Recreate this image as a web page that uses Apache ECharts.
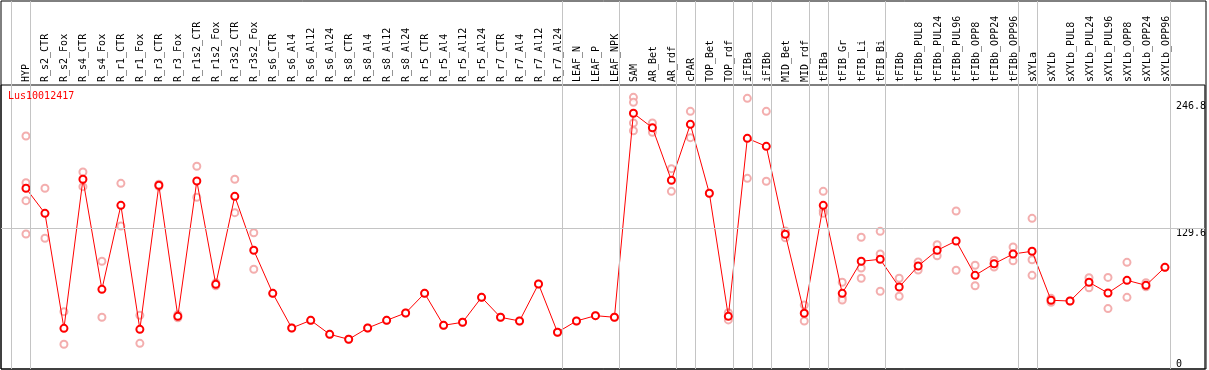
<!DOCTYPE html>
<html>
<head>
<meta charset="utf-8">
<script src="https://cdn.jsdelivr.net/npm/echarts@6/dist/echarts.min.js"></script>
<style>html,body{margin:0;padding:0;background:#fff}#c{width:1209px;height:370px}</style>
</head>
<body>
<div id="c"></div>
<script>
const title = 'Lus10012417';
const categories = ['HYP','R_s2_CTR','R_s2_Fox','R_s4_CTR','R_s4_Fox','R_r1_CTR','R_r1_Fox','R_r3_CTR','R_r3_Fox','R_r1s2_CTR','R_r1s2_Fox','R_r3s2_CTR','R_r3s2_Fox','R_s6_CTR','R_s6_Al4','R_s6_Al12','R_s6_Al24','R_s8_CTR','R_s8_Al4','R_s8_Al12','R_s8_Al24','R_r5_CTR','R_r5_Al4','R_r5_Al12','R_r5_Al24','R_r7_CTR','R_r7_Al4','R_r7_Al12','R_r7_Al24','LEAF_N','LEAF_P','LEAF_NPK','SAM','AR_Bet','AR_rdf','cPAR','TOP_Bet','TOP_rdf','iFIBa','iFIBb','MID_Bet','MID_rdf','tFIBa','tFIB_Gr','tFIB_Li','tFIB_Bi','tFIBb','tFIBb_PUL8','tFIBb_PUL24','tFIBb_PUL96','tFIBb_OPP8','tFIBb_OPP24','tFIBb_OPP96','sXYLa','sXYLb','sXYLb_PUL8','sXYLb_PUL24','sXYLb_PUL96','sXYLb_OPP8','sXYLb_OPP24','sXYLb_OPP96'];
const means = [166.7,143.6,37.5,175.0,73.5,151.0,36.6,169.5,48.6,173.4,78.1,159.3,109.5,69.8,37.8,44.9,32.0,27.4,37.8,44.9,51.7,69.8,40.3,43.1,66.1,47.7,44.3,78.4,33.9,44.3,49.2,47.7,235.9,222.6,174.1,225.7,162.1,48.6,212.8,205.4,124.3,51.4,151.0,69.8,99.4,101.2,75.6,95.0,109.5,118.1,86.4,97.1,106.1,108.6,63.4,62.7,80.0,70.1,81.8,77.2,93.8];
const replicates = [
  [215.0,171.9,155.3,124.5],[166.7,120.6],[52.9,22.8],[181.7,168.2],[99.4,47.7],[171.3,131.9],[49.5,23.7],[170.5,168.5],[50.0,47.2],[187.0,158.4],[79.5,76.7],[175.0,144.2],[125.7,92.0],
  [69.8],[37.8],[44.9],[32.0],[27.4],[37.8],[44.9],[51.7],[69.8],[40.3],[43.1],[66.1],[47.7],[44.3],[78.4],[33.9],[44.3],[49.2],[47.7],
  [250.6,246.0,226.9,219.8],[226.9,218.4],[184.8,163.9],[237.7,213.4],[162.1],[51.9,45.3],[249.7,175.9],[237.7,173.2],[127.3,121.1],[59.0,44.3],
  [163.9,146.0,143.6],[80.0,65.8,63.6],[121.5,93.2,83.7],[127.0,106.1,71.7],[83.7,67.1],[98.7,91.3],[114.7,104.5],[145.8,91.1],[95.7,76.8],[100.3,94.1],[112.5,99.9],
  [139.0,100.8,86.4],[65.2,61.6],[62.7],[84.2,75.0],[84.5,55.7],[98.4,66.1],[79.6,75.9],[93.8]
];
const groupEnds = [-1,0,28,31,34,35,37,38,39,41,42,45,52,53,60];
const yTickLabels = [129.6, 246.8];
const yZeroLabel = [0];
const yGridValue = 129.6;

// layout
const W = 1209, PX = 19, FIRST = 26, LEFT = 1, RIGHT = 3;
const plotW = W - LEFT - RIGHT;
const xMin = -(FIRST - LEFT) / PX;
const xMax = xMin + plotW / PX;
const font = 'DejaVu Sans Mono';
const gray = '#c4c4c4';

const meanData = means.map((v, i) => [i, v]);
const repData = [];
replicates.forEach((arr, i) => arr.forEach(v => repData.push([i, v])));

const chart = echarts.init(document.getElementById('c'), null, {renderer: 'canvas'});
chart.setOption({
  animation: false,
  title: {text: title, left: 8, top: 91, padding: 0,
    textStyle: {color: '#ff0000', fontFamily: font, fontSize: 10, fontWeight: 'normal'}},
  grid: [
    {left: LEFT, right: RIGHT, top: 1, bottom: 1, show: true, borderColor: '#000', borderWidth: 1, backgroundColor: 'transparent'},
    {left: LEFT, right: RIGHT, top: 85, bottom: 1, show: true, borderColor: '#000', borderWidth: 1, backgroundColor: 'transparent'},
    {left: FIRST - PX / 2, right: W - (FIRST - PX / 2 + categories.length * PX), top: 85, bottom: 1, show: false}
  ],
  xAxis: [
    {type: 'value', gridIndex: 0, min: xMin, max: xMax, show: false},
    {type: 'value', gridIndex: 1, min: xMin, max: xMax, show: false},
    {type: 'category', gridIndex: 2, data: categories, position: 'top', boundaryGap: true,
      axisLine: {show: false}, axisTick: {show: false}, splitLine: {show: false},
      axisLabel: {interval: 0, rotate: 90, margin: 3, color: '#000', fontFamily: font, fontSize: 10}}
  ],
  yAxis: [
    {type: 'value', gridIndex: 0, min: 0, max: 1, show: false},
    {type: 'value', gridIndex: 1, min: 0, max: 262, position: 'right',
      axisLine: {show: false}, axisTick: {show: false}, splitLine: {show: false},
      axisLabel: {inside: true, align: 'left', verticalAlign: 'top', margin: 29, color: '#000', fontFamily: font, fontSize: 10,
        customValues: yTickLabels, formatter: v => String(v)}},
    {type: 'value', gridIndex: 1, min: 0, max: 262, position: 'right',
      axisLine: {show: false}, axisTick: {show: false}, splitLine: {show: false},
      axisLabel: {inside: true, align: 'left', verticalAlign: 'bottom', margin: 29, color: '#000', fontFamily: font, fontSize: 10,
        customValues: yZeroLabel, formatter: v => String(v)}},
    {type: 'value', gridIndex: 2, min: 0, max: 262, show: false}
  ],
  series: [
    {type: 'line', xAxisIndex: 0, yAxisIndex: 0, data: [], silent: true,
      markLine: {silent: true, symbol: 'none', label: {show: false},
        lineStyle: {color: gray, width: 1, type: 'solid'},
        data: groupEnds.map(g => ({xAxis: g + 0.23}))}},
    {type: 'line', xAxisIndex: 1, yAxisIndex: 1, data: [], silent: true,
      markLine: {silent: true, symbol: 'none', label: {show: false},
        lineStyle: {color: gray, width: 1, type: 'solid'},
        data: [{yAxis: yGridValue}]}},
    {type: 'scatter', xAxisIndex: 1, yAxisIndex: 1, data: repData, symbol: 'emptyCircle', symbolSize: 7,
      itemStyle: {color: '#f09a9a', borderWidth: 1}, z: 3},
    {type: 'line', xAxisIndex: 1, yAxisIndex: 1, data: meanData, symbol: 'emptyCircle', symbolSize: 7,
      color: '#ff0000',
      lineStyle: {color: '#ff0000', width: 1},
      itemStyle: {color: '#ff0000', borderWidth: 1.5}, z: 4}
  ]
});
</script>
</body>
</html>
